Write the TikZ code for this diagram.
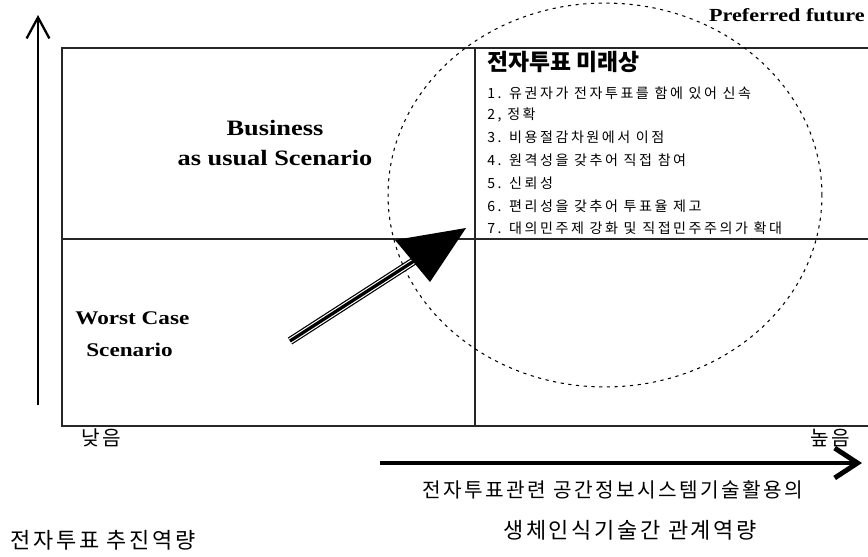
\documentclass[tikz,border=0pt]{standalone}
\usepackage{fontspec}
\setmainfont{Liberation Serif}
\newfontfamily\enfont[FakeStretch=1.2]{Liberation Serif}
\newfontfamily\krfont{Noto Sans CJK KR}
\newfontfamily\krwide[LetterSpace=12]{Noto Sans CJK KR}
\newfontfamily\krlist[LetterSpace=18]{Noto Sans CJK KR}
\usetikzlibrary{arrows.meta, positioning, calc}

\begin{document}
\begin{tikzpicture}[
    x=0.02cm, y=-0.02cm,
    frame/.style={draw=black!85, line width=0.8pt},
    axis/.style={draw=black, line width=1.3pt, -{Straight Barb[length=12pt, width=13pt]}},
    bigaxis/.style={draw=black, line width=2.8pt, -{Straight Barb[length=13pt, width=17pt]}},
    future/.style={draw=black, dash pattern=on 1.8pt off 2.6pt, line width=0.6pt},
    scen/.style={font=\enfont\fontsize{12.5}{14}\selectfont\bfseries, inner sep=0pt},
    worst/.style={font=\enfont\fontsize{11}{13}\selectfont\bfseries, inner sep=0pt, anchor=west},
    title/.style={font=\krfont\fontsize{13}{15}\selectfont\bfseries, inner sep=0pt, anchor=west},
    item/.style={font=\krlist\fontsize{8}{10}\selectfont, inner sep=0pt, anchor=west},
    axislabel/.style={font=\krwide\fontsize{11.5}{14}\selectfont, inner sep=0pt}
]
\useasboundingbox (0,0) rectangle (868,556);

% Quadrant frame
\draw[frame] (868,48) -- (62,48) -- (62,426) -- (868,426);
\draw[frame] (62,239) -- (868,239);
\draw[frame] (475,48) -- (475,426);

% Preferred future region
\draw[future] (605,195) ellipse [x radius=4.34cm, y radius=3.84cm];
\node[scen, font=\enfont\fontsize{10.5}{12}\selectfont\bfseries, anchor=east] (pref) at (865,15) {Preferred future};

% Scenario labels
\node[scen] (bau1) at (275,128) {Business};
\node[scen] (bau2) at (275,158) {as usual Scenario};
\node[worst] (worst1) at (75,318) {Worst Case};
\node[worst] (worst2) at (86,350) {Scenario};

% Future image list
\node[title] (ftitle) at (487,62) {전자투표 미래상};
\node[item] (it1) at (487,93) {1. 유권자가 전자투표를 함에 있어 신속};
\node[item] (it2) at (487,115) {2, 정확};
\node[item] (it3) at (487,137) {3. 비용절감차원에서 이점};
\node[item] (it4) at (487,160) {4. 원격성을 갖추어 직접 참여};
\node[item] (it5) at (487,183) {5. 신뢰성};
\node[item] (it6) at (487,206) {6. 편리성을 갖추어 투표율 제고};
\node[item] (it7) at (487,228) {7. 대의민주제 강화 및 직접민주주의가 확대};

% Transition arrow
\coordinate (mv-s) at (290,341);
\coordinate (mv-e) at (414,261);
\draw[line width=4.6pt, black] (mv-s) -- (mv-e);
\draw[line width=3.2pt, white] (mv-s) -- (mv-e);
\draw[line width=1.9pt, black] (mv-s) -- (mv-e);
\coordinate (hd-a) at (395,240);
\coordinate (hd-b) at (466,228);
\coordinate (hd-c) at (430,282);
\fill[black] (hd-a) -- (hd-b) -- (hd-c) -- cycle;

% Axes
\coordinate (ya-s) at (38,405);
\coordinate (ya-e) at (38,15);
\draw[axis] (ya-s) -- (ya-e);
\coordinate (xa-s) at (380,463);
\coordinate (xa-e) at (862,463);
\draw[bigaxis] (xa-s) -- (xa-e);

\node[axislabel] (low) at (101,438) {낮음};
\node[axislabel] (high) at (830,438) {높음};
\node[axislabel, font=\krwide\fontsize{12.5}{14}\selectfont] (ylab) at (103,540) {전자투표 추진역량};
\node[axislabel] (xlab1) at (613,490) {전자투표관련 공간정보시스템기술활용의};
\node[axislabel, font=\krwide\fontsize{12.5}{14}\selectfont] (xlab2) at (630,530) {생체인식기술간 관계역량};

\end{tikzpicture}
\end{document}
